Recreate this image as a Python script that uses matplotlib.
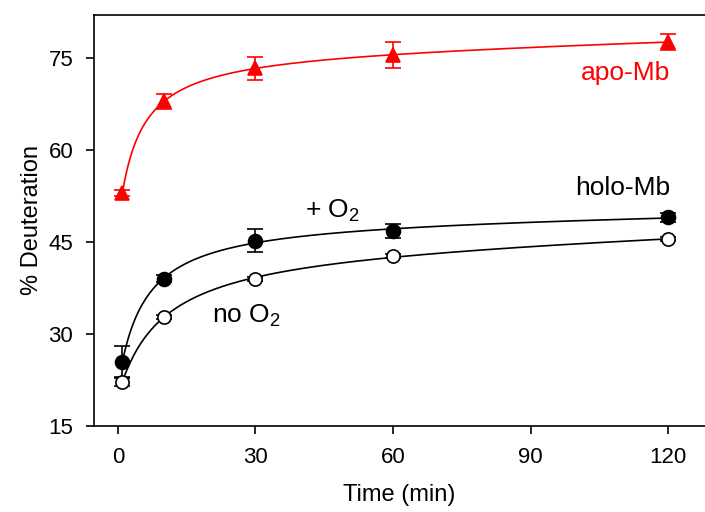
import numpy as np
import matplotlib
matplotlib.use("Agg")
import matplotlib.pyplot as plt

plt.rcParams['font.family'] = ['Liberation Sans', 'DejaVu Sans']
plt.rcParams['mathtext.fontset'] = 'custom'
plt.rcParams['mathtext.rm'] = 'Liberation Sans'
plt.rcParams['mathtext.it'] = 'Liberation Sans:italic'

# time points (min)
time = np.array([1, 10, 30, 60, 120])

# apo-Mb
apo = np.array([53.0, 67.9, 73.3, 75.5, 77.6])
apo_err = np.array([0.5, 1.3, 1.85, 2.1, 1.3])

# holo-Mb + O2
holo_o2 = np.array([25.5, 39.0, 45.2, 46.8, 49.0])
holo_o2_err = np.array([2.5, 0.6, 1.9, 1.2, 0.8])

# holo-Mb no O2
holo_no = np.array([22.2, 32.8, 39.0, 42.7, 45.45])
holo_no_err = np.array([0.7, 0.3, 0.3, 0.3, 0.3])


def fit_curve(t, y):
    # y = a + b*t/(K+t) + c*t, grid over K, linear least squares for the rest
    best = None
    for K in np.linspace(0.5, 40, 400):
        A = np.column_stack([np.ones_like(t, dtype=float), t / (K + t), t])
        coef, *_ = np.linalg.lstsq(A, y, rcond=None)
        res = np.sum((A @ coef - y) ** 2)
        if best is None or res < best[0]:
            best = (res, K, coef)
    _, K, coef = best
    tt = np.linspace(t.min(), t.max(), 300)
    return tt, coef[0] + coef[1] * tt / (K + tt) + coef[2] * tt


fig = plt.figure(figsize=(7.05, 5.12), dpi=100)
ax = fig.add_axes([0.1333, 0.168, 0.8667, 0.8027])

for y, err, col, face, mk, ms in [
    (apo, apo_err, 'red', 'red', '^', 10),
    (holo_o2, holo_o2_err, 'black', 'black', 'o', 10),
    (holo_no, holo_no_err, 'black', 'white', 'o', 9.5),
]:
    tt, yy = fit_curve(time.astype(float), y)
    ax.plot(tt, yy, color=col, lw=1.2, zorder=2)
    ax.errorbar(time, y, yerr=err, fmt=mk, color=col, mfc=face, mec=col,
                ms=ms, mew=1.2, capsize=5.5, elinewidth=1.2, capthick=1.2, zorder=3)

ax.set_xlim(-5.2, 128)
ax.set_ylim(15, 82)
ax.set_xticks([0, 30, 60, 90, 120])
ax.set_yticks([15, 30, 45, 60, 75])
ax.tick_params(direction='out', length=6, width=1.2, labelsize=16, pad=9)
for s in ax.spines.values():
    s.set_linewidth(1.2)
ax.spines['right'].set_visible(False)

ax.set_xlabel('Time (min)', fontsize=17, labelpad=12)
ax.set_ylabel('% Deuteration', fontsize=17, labelpad=4)

ax.text(120.4, 72.6, 'apo-Mb', color='red', fontsize=19, ha='right', va='center')
ax.text(120.4, 53.8, 'holo-Mb', color='black', fontsize=19, ha='right', va='center')
ax.text(40.8, 50.0, '+ O$_2$', fontsize=19, ha='left', va='center')
ax.text(20.5, 33.0, 'no O$_2$', fontsize=19, ha='left', va='center')

fig.savefig('out.png', dpi=100)
